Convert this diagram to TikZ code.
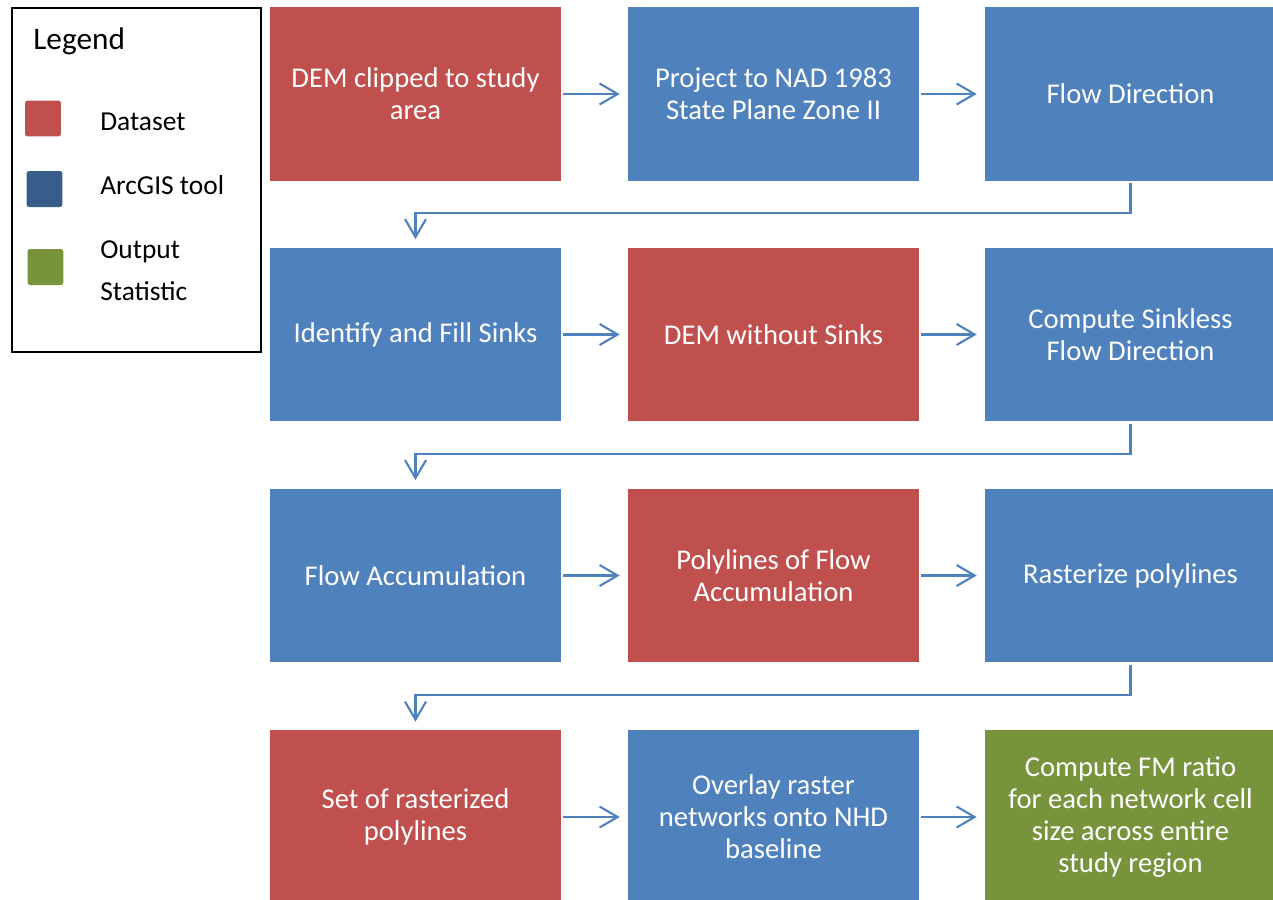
\documentclass[tikz,border=0pt]{standalone}
\usepackage{fontspec}
\setmainfont{Carlito}
\usepackage{tikz}
\usetikzlibrary{arrows.meta, positioning}
\definecolor{datared}{HTML}{C0504D}
\definecolor{toolblue}{HTML}{4F81BD}
\definecolor{keyblue}{HTML}{385D8A}
\definecolor{outgreen}{HTML}{77933C}

\begin{document}
\begin{tikzpicture}[x=0.02cm, y=-0.02cm,
    stage/.style={minimum width=5.82cm, minimum height=3.48cm, inner sep=0pt, text=white, align=center,
      font=\fontsize{16.3}{18.2}\selectfont},
    dataset/.style={stage, fill=datared},
    tool/.style={stage, fill=toolblue},
    result/.style={stage, fill=outgreen},
    flow/.style={draw=toolblue, line width=1.2pt, -{Straight Barb[length=0.36cm, width=0.42cm]},
      shorten <=0.04cm, shorten >=0.16cm},
    key/.style={minimum size=0.72cm, inner sep=0pt, rounded corners=1.5pt},
    keytext/.style={anchor=base west, inner sep=0pt, align=left, font=\fontsize{15.6}{23.8}\selectfont}]
    \useasboundingbox (0,0) rectangle (1273,899);

    % legend
    \node[draw, line width=1.1pt, minimum width=4.98cm, minimum height=6.88cm] (legend) at (136.5,180) {};
    \node[anchor=base west, inner sep=0pt, font=\fontsize{17.8}{20}\selectfont] (legendtitle) at (33,49) {Legend};
    \node[key, fill=datared] (keydata) at (43,118.5) {};
    \node[key, fill=keyblue] (keytool) at (44.5,189) {};
    \node[key, fill=outgreen] (keyout) at (45.5,267) {};
    \node[keytext] (keydatatext) at (100,130) {Dataset};
    \node[keytext] (keytooltext) at (100,194) {ArcGIS tool};
    \node[keytext] (keyouttext) at (100,300) {Output\\Statistic};

    % row 1
    \node[dataset] (dem) at (415.5,94) {DEM clipped to study\\area};
    \node[tool] (project) at (773.5,94) {Project to NAD 1983\\State Plane Zone II};
    \node[tool] (fdir) at (1130.5,94) {Flow Direction};

    % row 2
    \node[tool] (fill) at (415.5,334.5) {Identify and Fill Sinks};
    \node[dataset] (nosinks) at (773.5,334.5) {DEM without Sinks};
    \node[tool] (sinkless) at (1130.5,334.5) {Compute Sinkless\\Flow Direction};

    % row 3
    \node[tool] (facc) at (415.5,575.5) {Flow Accumulation};
    \node[dataset] (polylines) at (773.5,575.5) {Polylines of Flow\\Accumulation};
    \node[tool] (rasterize) at (1130.5,575.5) {Rasterize polylines};

    % row 4
    \node[dataset] (rasterset) at (415.5,817) {Set of rasterized\\polylines};
    \node[tool] (overlay) at (773.5,817) {Overlay raster\\networks onto NHD\\baseline};
    \node[result] (fmratio) at (1130.5,817) {Compute FM ratio\\for each network cell\\size across entire\\study region};

    \draw[flow] (dem) -- (project);
    \draw[flow] (project) -- (fdir);
    \draw[flow] (fdir.south) -- ++(0,32) -| (fill.north);
    \draw[flow] (fill) -- (nosinks);
    \draw[flow] (nosinks) -- (sinkless);
    \draw[flow] (sinkless.south) -- ++(0,32) -| (facc.north);
    \draw[flow] (facc) -- (polylines);
    \draw[flow] (polylines) -- (rasterize);
    \draw[flow] (rasterize.south) -- ++(0,32) -| (rasterset.north);
    \draw[flow] (rasterset) -- (overlay);
    \draw[flow] (overlay) -- (fmratio);
\end{tikzpicture}
\end{document}
